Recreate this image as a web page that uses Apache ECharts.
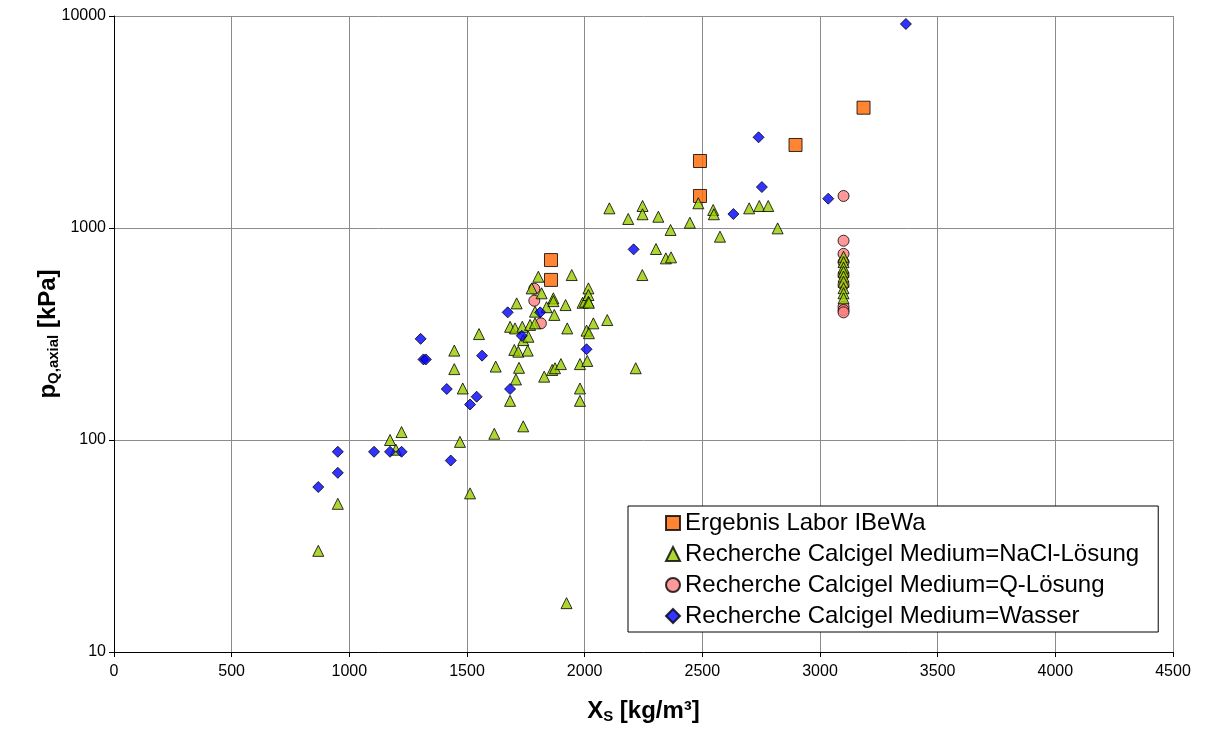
<!DOCTYPE html>
<html>
<head>
<meta charset="utf-8">
<script src="https://cdn.jsdelivr.net/npm/echarts@6/dist/echarts.min.js"></script>
<style>
  html, body { margin: 0; padding: 0; background: #fff; }
  #chart { width: 1206px; height: 740px; }
</style>
</head>
<body>
<div id="chart"></div>
<script>
// series names (legend)
var seriesNames = [
  'Ergebnis Labor IBeWa',
  'Recherche Calcigel Medium=NaCl-Lösung',
  'Recherche Calcigel Medium=Q-Lösung',
  'Recherche Calcigel Medium=Wasser'
];

// [X_S kg/m³, p kPa]
var laborData = [
  [1857, 706], [1857, 569], [2490, 2070], [2490, 1416], [2896, 2464], [3185, 3694]
];

var naclData = [
  [868, 30], [951, 50], [1173, 100], [1198, 90], [1222, 109], [1446, 264], [1446, 216],
  [1470, 98], [1482, 175], [1513, 56], [1551, 316], [1616, 107], [1622, 222], [1683, 342],
  [1683, 153], [1701, 266], [1704, 336], [1708, 193], [1711, 441], [1718, 261], [1721, 219],
  [1735, 342], [1739, 296], [1739, 116], [1758, 264], [1761, 307], [1768, 349], [1775, 519],
  [1789, 403], [1789, 355], [1803, 589], [1817, 492], [1828, 199], [1838, 423], [1862, 214],
  [1867, 466], [1867, 452], [1871, 389], [1874, 218], [1899, 228], [1919, 433], [1923, 17],
  [1926, 336], [1945, 600], [1980, 228], [1980, 175], [1980, 153], [1991, 444], [2001, 449],
  [2008, 328], [2011, 236], [2016, 519], [2016, 483], [2016, 449], [2018, 444], [2018, 319],
  [2037, 355], [2096, 368], [2105, 1238], [2185, 1103], [2217, 218], [2245, 600], [2246, 1270],
  [2246, 1161], [2303, 796], [2313, 1130], [2345, 719], [2365, 979], [2367, 727], [2447, 1059],
  [2483, 1308], [2546, 1216], [2549, 1161], [2575, 910], [2699, 1238], [2742, 1270], [2780, 1270],
  [2820, 996],
  [3100, 732], [3100, 690], [3100, 650], [3100, 622], [3100, 590], [3100, 558], [3100, 520],
  [3100, 492], [3100, 466]
];

var qData = [
  [1786, 517], [1786, 454], [1814, 355],
  [3100, 1416], [3100, 871], [3100, 755], [3100, 690], [3100, 600], [3100, 540],
  [3100, 425], [3100, 410], [3100, 400]
];

var wasserData = [
  [868, 60], [951, 88], [951, 70], [1105, 88], [1173, 88], [1222, 88], [1303, 300],
  [1315, 240], [1325, 240], [1414, 174], [1431, 80], [1513, 147], [1541, 160], [1564, 250],
  [1673, 400], [1683, 174], [1733, 310], [1811, 400], [2008, 268], [2208, 793], [2632, 1164],
  [2739, 2678], [2753, 1560], [3035, 1375], [3365, 9170]
];

var font = 'Liberation Sans, Arial, sans-serif';

var myChart = echarts.init(document.getElementById('chart'));
var option = {
  backgroundColor: '#ffffff',
  animation: false,
  textStyle: { fontFamily: font, color: '#000' },
  grid: { left: 114, right: 33, top: 16, bottom: 88 },
  legend: {
    orient: 'vertical',
    left: 628,
    top: 506,
    padding: [5, 19, 4, 37],
    itemGap: 7,
    itemWidth: 14,
    itemHeight: 14,
    backgroundColor: '#ffffff',
    borderColor: '#000000',
    borderWidth: 1,
    textStyle: { fontFamily: font, fontSize: 24, color: '#000' },
    data: seriesNames
  },
  xAxis: {
    type: 'value',
    min: 0,
    max: 4500,
    interval: 500,
    name: 'X{s|S} [kg/m³]',
    nameLocation: 'middle',
    nameGap: 47,
    nameMoveOverlap: false,
    nameTextStyle: {
      fontFamily: font, fontSize: 24, fontWeight: 'bold', color: '#000',
      rich: { s: { fontFamily: font, fontSize: 15, fontWeight: 'bold', verticalAlign: 'bottom', padding: [10, 0, 0, 0] } }
    },
    axisLine: { lineStyle: { color: '#000', width: 1 } },
    axisTick: { show: true, inside: false, length: 5, lineStyle: { color: '#000' } },
    axisLabel: {
      fontFamily: font, fontSize: 16, color: '#000', margin: 12,
      formatter: function (v) { return String(v); }
    },
    splitLine: { show: true, lineStyle: { color: '#8c8c8c', width: 1 } }
  },
  yAxis: {
    type: 'log',
    logBase: 10,
    min: 10,
    max: 10000,
    name: 'p{s|Q,axial} [kPa]',
    nameLocation: 'middle',
    nameGap: 53,
    nameMoveOverlap: false,
    nameTextStyle: {
      fontFamily: font, fontSize: 24, fontWeight: 'bold', color: '#000',
      rich: { s: { fontFamily: font, fontSize: 15, fontWeight: 'bold', verticalAlign: 'bottom', padding: [10, 0, 0, 0] } }
    },
    axisLine: { show: true, lineStyle: { color: '#000', width: 1 } },
    axisTick: { show: true, inside: false, length: 5, lineStyle: { color: '#000' } },
    minorTick: { show: false },
    axisLabel: {
      fontFamily: font, fontSize: 16, color: '#000', margin: 8,
      formatter: function (v) { return String(Math.round(v)); }
    },
    splitLine: { show: true, lineStyle: { color: '#8c8c8c', width: 1 } }
  },
  series: [
    {
      name: seriesNames[0],
      type: 'scatter',
      symbol: 'rect',
      symbolSize: 13,
      itemStyle: { color: '#ff6600', borderColor: '#000', borderWidth: 1 },
      data: laborData,
      z: 2
    },
    {
      name: seriesNames[1],
      type: 'scatter',
      symbol: 'triangle',
      symbolSize: 11,
      itemStyle: { color: '#99cc00', borderColor: '#000', borderWidth: 1 },
      data: naclData,
      z: 4
    },
    {
      name: seriesNames[2],
      type: 'scatter',
      symbol: 'circle',
      symbolSize: 11,
      itemStyle: { color: '#ff8080', borderColor: '#000', borderWidth: 1 },
      data: qData,
      z: 3
    },
    {
      name: seriesNames[3],
      type: 'scatter',
      symbol: 'diamond',
      symbolSize: 11,
      itemStyle: { color: '#0000ff', borderColor: '#000', borderWidth: 1 },
      data: wasserData,
      z: 5
    }
  ]
};
myChart.setOption(option);
</script>
</body>
</html>
